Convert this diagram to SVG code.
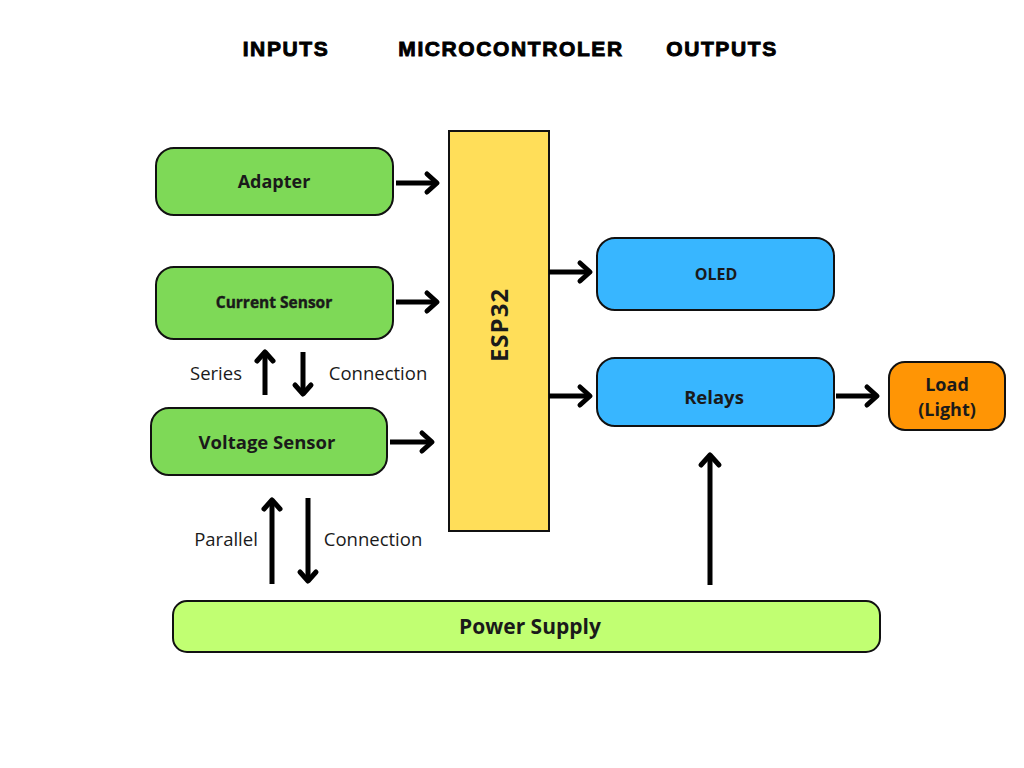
<svg xmlns="http://www.w3.org/2000/svg" width="1024" height="768" viewBox="0 0 1024 768">
<defs>
<style>
.box{stroke:#111;stroke-width:2}
.green{fill:#7ED957}
.blue{fill:#38B6FF}
.t{font-family:"Open Sans","Liberation Sans",sans-serif;font-weight:bold;fill:#1a1a1a;text-anchor:middle;dominant-baseline:central}
.h{font-family:"Liberation Sans",Arial,sans-serif;font-weight:900;font-size:21px;letter-spacing:1.6px;fill:#000;stroke:#000;stroke-width:0.9px;text-anchor:middle;dominant-baseline:central}
.l{font-family:"Open Sans","Liberation Sans",sans-serif;font-size:18.5px;fill:#1a1a1a;text-anchor:middle;dominant-baseline:central}
.c{stroke:#000;stroke-width:5;fill:none;stroke-linecap:butt}
.hd{stroke:#000;stroke-width:5;fill:none;stroke-linecap:round;stroke-linejoin:round}
</style>
</defs>
<rect width="1024" height="768" fill="#fff"/>
<g id="titles">
<text class="h" x="286" y="48">INPUTS</text>
<text class="h" x="511" y="48">MICROCONTROLER</text>
<text class="h" x="722" y="48">OUTPUTS</text>
</g>
<g id="adapter"><rect class="box green" x="156" y="148" width="237" height="67" rx="18"/><text class="t" x="274" y="181" font-size="18">Adapter</text></g>
<g id="current"><rect class="box green" x="156" y="267" width="237" height="72" rx="18"/><text class="t" x="274" y="302" font-size="15.5" stroke="#1a1a1a" stroke-width="0.4">Current Sensor</text></g>
<g id="voltage"><rect class="box green" x="151" y="408" width="236" height="67" rx="18"/><text class="t" x="267" y="441" font-size="18.5">Voltage Sensor</text></g>
<g id="esp32"><rect class="box" fill="#FFDE59" x="449" y="131" width="100" height="400"/><text class="t" x="0" y="0" font-size="24" letter-spacing="1" transform="translate(498 325) rotate(-90)">ESP32</text></g>
<g id="oled"><rect class="box blue" x="597" y="238" width="237" height="72" rx="18"/><text class="t" x="716" y="274" font-size="16">OLED</text></g>
<g id="relays"><rect class="box blue" x="597" y="358" width="237" height="68" rx="18"/><text class="t" x="714" y="396" font-size="18.5">Relays</text></g>
<g id="load"><rect class="box" fill="#FF9505" x="889" y="362" width="116" height="68" rx="16"/><text class="t" x="947" y="384" font-size="18">Load</text><text class="t" x="947" y="409" font-size="18">(Light)</text></g>
<g id="power"><rect class="box" fill="#C1FF72" x="173" y="601" width="707" height="51" rx="14"/><text class="t" x="530" y="626" font-size="21">Power Supply</text></g>
<g id="labels">
<text class="l" x="216" y="372">Series</text>
<text class="l" x="378" y="372">Connection</text>
<text class="l" x="226" y="538">Parallel</text>
<text class="l" x="373" y="538">Connection</text>
</g>
<g id="connectors">
<line class="c" x1="396" y1="183" x2="437" y2="183"/><polyline class="hd" points="427,174 437,183 427,192"/>
<line class="c" x1="396" y1="302" x2="437" y2="302"/><polyline class="hd" points="427,293 437,302 427,311"/>
<line class="c" x1="390" y1="442" x2="432" y2="442"/><polyline class="hd" points="422,433 432,442 422,451"/>
<line class="c" x1="549" y1="272" x2="590" y2="272"/><polyline class="hd" points="580,263 590,272 580,281"/>
<line class="c" x1="549" y1="396" x2="590" y2="396"/><polyline class="hd" points="580,387 590,396 580,405"/>
<line class="c" x1="836" y1="396" x2="877" y2="396"/><polyline class="hd" points="867,387 877,396 867,405"/>
<line class="c" x1="710" y1="585" x2="710" y2="455"/><polyline class="hd" points="701,465 710,455 719,465"/>
<line class="c" x1="265" y1="395" x2="265" y2="352"/><polyline class="hd" points="257,361 265,352 273,361"/>
<line class="c" x1="303" y1="352" x2="303" y2="394"/><polyline class="hd" points="295,385 303,394 311,385"/>
<line class="c" x1="272" y1="584" x2="272" y2="500"/><polyline class="hd" points="264,509 272,500 280,509"/>
<line class="c" x1="308" y1="498" x2="308" y2="581"/><polyline class="hd" points="300,572 308,581 316,572"/>
</g>
</svg>
